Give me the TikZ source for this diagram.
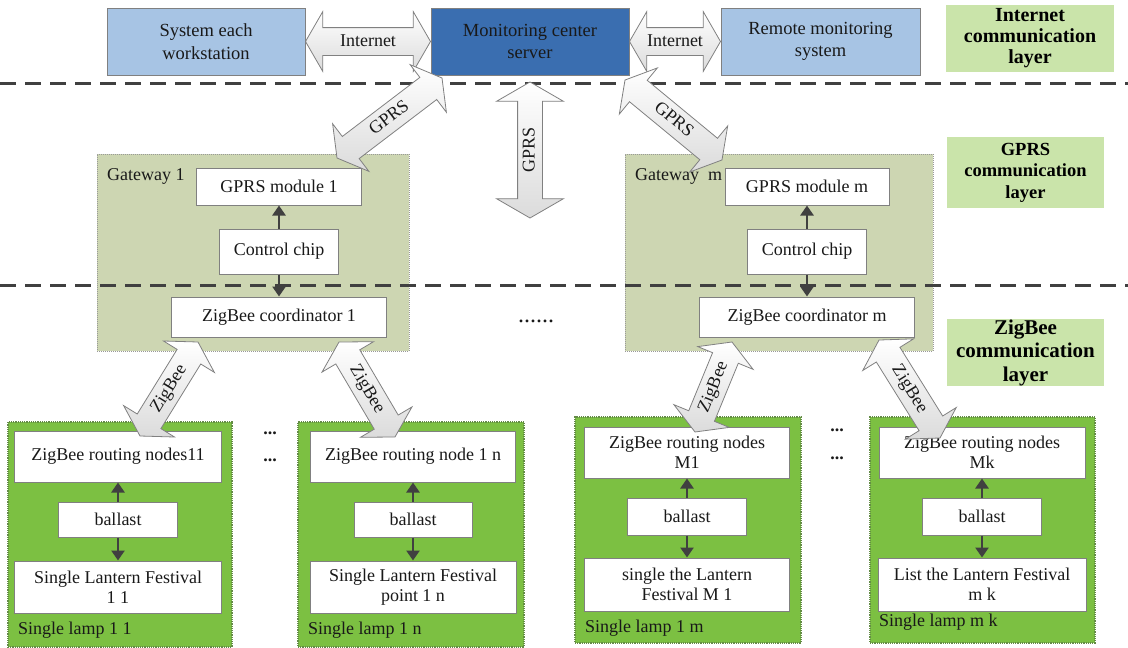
\documentclass[tikz,border=0pt]{standalone}
\usepackage{fontspec}
\setmainfont{Liberation Serif}
\usetikzlibrary{shapes.arrows, arrows.meta, calc}

\definecolor{sideblue}{RGB}{167,196,228}
\definecolor{srvblue}{RGB}{58,110,176}
\definecolor{laygreen}{RGB}{202,228,170}
\definecolor{gatefill}{RGB}{205,214,178}
\definecolor{lampgreen}{RGB}{124,192,66}
\definecolor{lampedge}{RGB}{100,140,70}
\definecolor{edgegray}{RGB}{128,128,128}
\definecolor{inkgray}{RGB}{64,64,64}

% fat double arrow between two named points, label turned along it
\newcommand{\fatlink}[5][]{%
  \path let \p1=(#2), \p2=(#3),
        \n1={atan2(\y2-\y1,\x2-\x1)}, \n2={veclen(\x2-\x1,\y2-\y1)} in
    node[fat, #1, rotate=\n1, minimum height=\n2] (#5) at ($(#2)!0.5!(#3)$) {#4};}

\begin{document}
\begin{tikzpicture}[x=1pt, y=-1pt,
  blk/.style={draw=edgegray, line width=1pt, fill=white, text=black!90, align=center,
    inner sep=0pt, font=\fontsize{18}{20}\selectfont},
  topbox/.style={blk, fill=sideblue, font=\fontsize{18.5}{22.5}\selectfont},
  gate/.style={draw=edgegray!80, densely dotted, line width=1pt, fill=gatefill, inner sep=0pt},
  lamp/.style={draw=lampedge, densely dotted, line width=1.2pt, fill=lampgreen, inner sep=0pt},
  layer/.style={fill=laygreen, align=center, inner sep=0pt, text=black,
    font=\fontsize{18.5}{21.5}\selectfont\bfseries},
  tag/.style={anchor=west, inner sep=0pt, text=black!90, font=\fontsize{18}{20}\selectfont},
  dots/.style={inner sep=0pt, text=black!90, font=\fontsize{18}{20}\selectfont\bfseries},
  link/.style={draw=inkgray, line width=2.8pt, -{Triangle[length=10pt, width=13pt]}},
  sep/.style={draw=inkgray, line width=3pt, dash pattern=on 16pt off 9pt},
  fat/.style={double arrow, draw=edgegray, line width=0.8pt, top color=white,
    bottom color=black!14, double arrow head extend=16pt, double arrow tip angle=120,
    inner xsep=0pt, inner ysep=5.5pt, text height=12.5pt, text depth=3.5pt,
    text=black!90, font=\fontsize{18}{20}\selectfont}
]
\useasboundingbox (0,0) rectangle (1128,648);

% --- gateways and lamps (background boxes) ---
\node[gate, minimum width=312, minimum height=197] (gw1) at (253,252.5) {};
\node[gate, minimum width=308, minimum height=197] (gwm) at (779,252.5) {};
\node[lamp, minimum width=224, minimum height=225] (lamp11) at (120,534.5) {};
\node[lamp, minimum width=226, minimum height=225] (lamp1n) at (411,534.5) {};
\node[lamp, minimum width=226, minimum height=226] (lamp1m) at (688,530) {};
\node[lamp, minimum width=225, minimum height=226] (lampmk) at (982.5,530) {};

% --- layer borders ---
\draw[sep] (0,83) -- (1128,83);
\draw[sep] (0,285) -- (1128,285);

% --- internet layer ---
\node[topbox, minimum width=198, minimum height=67] (ws) at (206,41.5) {System each\\workstation};
\node[topbox, fill=srvblue, minimum width=198, minimum height=67] (srv) at (530,41.5) {Monitoring center\\server};
\node[topbox, minimum width=199, minimum height=67] (rem) at (820.5,41.5) {Remote monitoring\\system};

% --- layer names ---
\node[layer, font=\fontsize{20}{21}\selectfont\bfseries, minimum width=168, minimum height=67] (layInt) at (1030,38.5) {Internet\\communication\\layer};
\node[layer, minimum width=157, minimum height=71] (layGprs) at (1025.5,172.5) {GPRS\\communication\\layer};
\node[layer, font=\fontsize{21}{23.5}\selectfont\bfseries, minimum width=157, minimum height=65] (layZig) at (1025.5,352.5) {ZigBee\\communication\\layer};

% --- gateway 1 ---
\node[tag] (gw1name) at (107,176) {Gateway 1};
\node[blk, minimum width=165, minimum height=37] (gprs1) at (279,186.5) {GPRS module 1};
\node[blk, minimum width=119, minimum height=45] (ctrl1) at (279,251.5) {Control chip};
\node[blk, minimum width=215, minimum height=40] (coord1) at (279,317) {ZigBee coordinator 1};
\draw[link] (ctrl1) -- (gprs1);
\draw[link] (ctrl1) -- (coord1);

% --- gateway m ---
\node[tag] (gwmname) at (635,176) {Gateway\enspace m};
\node[blk, minimum width=164, minimum height=37] (gprsm) at (807,186.5) {GPRS module m};
\node[blk, minimum width=119, minimum height=45] (ctrlm) at (807,251.5) {Control chip};
\node[blk, minimum width=215, minimum height=40] (coordm) at (807,317) {ZigBee coordinator m};
\draw[link] (ctrlm) -- (gprsm);
\draw[link] (ctrlm) -- (coordm);

\node[dots, font=\fontsize{24}{24}\selectfont] (more) at (536,321) {......};

% --- single lamp 1 1 ---
\node[blk, minimum width=207, minimum height=51] (rt11) at (118,456.5) {ZigBee routing nodes11};
\node[blk, minimum width=119, minimum height=35] (bal11) at (118,519.5) {ballast};
\node[blk, minimum width=207, minimum height=52] (lt11) at (118,587) {Single Lantern Festival\\1 1};
\node[tag] (lab11) at (18,630) {Single lamp 1 1};
\draw[link] (bal11) -- (rt11);
\draw[link] (bal11) -- (lt11);

% --- single lamp 1 n ---
\node[blk, minimum width=205, minimum height=51] (rt1n) at (413,456.5) {ZigBee routing node 1 n};
\node[blk, minimum width=118, minimum height=35] (bal1n) at (413,519.5) {ballast};
\node[blk, minimum width=206, minimum height=52] (lt1n) at (413,587) {Single Lantern Festival\\point 1 n};
\node[tag] (lab1n) at (308,630) {Single lamp 1 n};
\draw[link] (bal1n) -- (rt1n);
\draw[link] (bal1n) -- (lt1n);

% --- single lamp 1 m ---
\node[blk, minimum width=205, minimum height=51] (rt1m) at (687,452.5) {ZigBee routing nodes\\M1};
\node[blk, minimum width=119, minimum height=37] (bal1m) at (687,516.5) {ballast};
\node[blk, minimum width=205, minimum height=53] (lt1m) at (687,584.5) {single the Lantern\\Festival M 1};
\node[tag] (lab1m) at (585,628) {Single lamp 1 m};
\draw[link] (bal1m) -- (rt1m);
\draw[link] (bal1m) -- (lt1m);

% --- single lamp m k ---
\node[blk, minimum width=206, minimum height=51] (rtmk) at (982,452.5) {ZigBee routing nodes\\Mk};
\node[blk, minimum width=119, minimum height=37] (balmk) at (982,516.5) {ballast};
\node[blk, minimum width=208, minimum height=53] (ltmk) at (982,584.5) {List the Lantern Festival\\m k};
\node[tag] (labmk) at (879,622) {Single lamp m k};
\draw[link] (balmk) -- (rtmk);
\draw[link] (balmk) -- (ltmk);

\node[dots] (dA1) at (270,433) {...};
\node[dots] (dA2) at (270,460) {...};
\node[dots] (dB1) at (837,430) {...};
\node[dots] (dB2) at (837,458) {...};

% --- free ends of the wireless links ---
\coordinate (g1lo) at (337,158);  \coordinate (g1hi) at (442,78);
\coordinate (gvlo) at (530,218);  \coordinate (gvhi) at (530,82);
\coordinate (gmhi) at (625,80);   \coordinate (gmlo) at (722,160);
\coordinate (z1lo) at (140,436);  \coordinate (z1hi) at (198,342);
\coordinate (z2hi) at (339,342);  \coordinate (z2lo) at (395,437);
\coordinate (z3lo) at (695,432);  \coordinate (z3hi) at (732,342);
\coordinate (z4hi) at (879,340);  \coordinate (z4lo) at (940,438);

% --- wireless links ---
\fatlink{ws.east}{srv.west}{Internet}{inet1}
\fatlink{srv.east}{rem.west}{Internet}{inet2}
\fatlink{g1lo}{g1hi}{GPRS}{gprsA}
\fatlink[double arrow head extend=21pt, inner ysep=4pt]{gvlo}{gvhi}{GPRS}{gprsB}
\fatlink{gmhi}{gmlo}{GPRS}{gprsC}
\fatlink{z1lo}{z1hi}{ZigBee}{zig1}
\fatlink{z2hi}{z2lo}{ZigBee}{zig2}
\fatlink{z3lo}{z3hi}{ZigBee}{zig3}
\fatlink{z4hi}{z4lo}{ZigBee}{zig4}
\end{tikzpicture}
\end{document}
